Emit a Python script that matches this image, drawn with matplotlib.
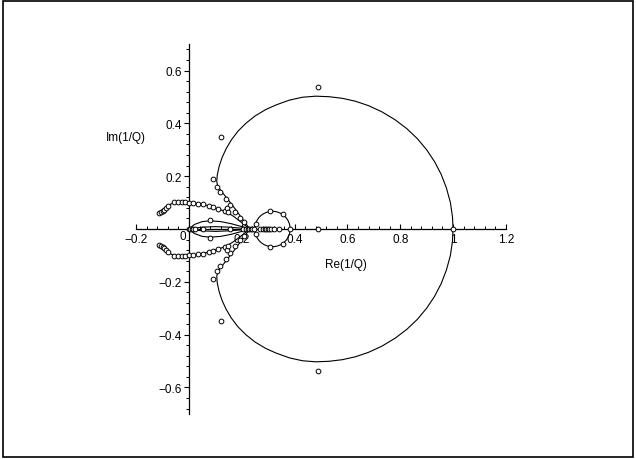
import matplotlib
matplotlib.use('Agg')
import matplotlib.pyplot as plt
import matplotlib.patches as patches
from matplotlib.ticker import FixedLocator
import numpy as np

plt.rcParams['font.family'] = ['Liberation Sans', 'DejaVu Sans']

# upper halves of the curves (mirrored below the real axis)
outer_x = [1.0, 0.998, 0.99, 0.975, 0.955, 0.93, 0.9, 0.865, 0.825, 0.78, 0.73, 0.68,
           0.63, 0.58, 0.53, 0.48, 0.43, 0.38, 0.33, 0.29, 0.25, 0.215, 0.185, 0.16,
           0.14, 0.125, 0.114, 0.107, 0.105, 0.108, 0.115, 0.125, 0.14, 0.174, 0.208,
           0.23]
outer_y = [0.0, 0.045, 0.1, 0.155, 0.207, 0.255, 0.3, 0.342, 0.38, 0.414, 0.444, 0.467,
           0.484, 0.495, 0.501, 0.503, 0.499, 0.488, 0.47, 0.452, 0.428, 0.4, 0.37, 0.337,
           0.303, 0.27, 0.237, 0.205, 0.18, 0.165, 0.153, 0.14, 0.121, 0.077, 0.03,
           0.0]

wing_x = [-0.105, -0.095, -0.082, -0.07, -0.057, -0.04, -0.02, 0.0, 0.02, 0.042,
          0.067, 0.09, 0.111, 0.143, 0.17, 0.2, 0.23]
wing_y = [0.065, 0.075, 0.085, 0.094, 0.1, 0.102, 0.102, 0.101, 0.099, 0.095,
          0.089, 0.082, 0.076, 0.064, 0.047, 0.024, 0.0]

lobe_x = [0.0, 0.02, 0.05, 0.08, 0.12, 0.16, 0.2, 0.23]
lobe_y = [0.0, 0.017, 0.028, 0.031, 0.028, 0.02, 0.009, 0.0]

thin_x = [0.0, 0.05, 0.1, 0.15, 0.2, 0.23]
thin_y = [0.0, 0.007, 0.009, 0.007, 0.003, 0.0]

ring_center = (0.316, 0.0)
ring_radius = 0.067

# sample points (upper half, mirrored)
dots_x = [0.49, 0.12, 0.092, 0.107, 0.117, 0.14, 0.155, 0.174, 0.193, 0.208,
          -0.112, -0.107, -0.097, -0.094, -0.088, -0.078, -0.057, -0.043, -0.028,
          -0.015, 0.0, 0.016, 0.035, 0.054, 0.075, 0.092, 0.111, 0.136, 0.145, 0.149,
          0.08, 0.307, 0.357, 0.254]
dots_y = [0.538, 0.348, 0.19, 0.158, 0.139, 0.114, 0.092, 0.066, 0.04, 0.025,
          0.06, 0.064, 0.069, 0.073, 0.078, 0.086, 0.101, 0.101, 0.101,
          0.101, 0.1, 0.1, 0.096, 0.093, 0.088, 0.083, 0.076, 0.069, 0.078, 0.066,
          0.033, 0.069, 0.055, 0.019]

# points on the real axis
axis_dots = [0.0, 0.005, 0.01, 0.015, 0.023, 0.053, 0.155, 0.205, 0.215, 0.222,
             0.228, 0.233, 0.238, 0.245, 0.27, 0.28, 0.287, 0.293, 0.298, 0.304,
             0.31, 0.32, 0.34, 0.383, 0.49, 1.0]

x_ticks = [-0.2, 0.2, 0.4, 0.6, 0.8, 1.0, 1.2]
x_labels = ['\u22120.2', '0.2', '0.4', '0.6', '0.8', '1', '1.2']
y_ticks = [-0.6, -0.4, -0.2, 0.2, 0.4, 0.6]
y_labels = ['\u22120.6', '\u22120.4', '\u22120.2', '0.2', '0.4', '0.6']


def mirror(xs, ys):
    xs = np.asarray(xs)
    ys = np.asarray(ys)
    return np.concatenate([xs, xs[::-1]]), np.concatenate([ys, -ys[::-1]])


fig = plt.figure(figsize=(6.36, 4.6), dpi=100)
ax = fig.add_axes([0, 0, 1, 1])
ax.set_xlim(-0.716, 1.693)
ax.set_ylim(-0.871, 0.871)

lw = 0.8
for cx, cy in [(outer_x, outer_y), (wing_x, wing_y), (lobe_x, lobe_y), (thin_x, thin_y)]:
    mx, my = mirror(cx, cy)
    ax.plot(mx, my, color='black', lw=lw)
ax.add_patch(patches.Circle(ring_center, ring_radius, fill=False, ec='black', lw=lw))

mk = dict(ls='none', marker='o', ms=3.4, mfc='white', mec='black', mew=0.7, zorder=3)
ax.plot(dots_x, dots_y, **mk)
ax.plot(dots_x, [-v for v in dots_y], **mk)
ax.plot(axis_dots, np.zeros(len(axis_dots)), **mk)

# axes through the origin
for s in ['top', 'right']:
    ax.spines[s].set_visible(False)
ax.spines['bottom'].set_position(('data', 0))
ax.spines['left'].set_position(('data', 0))
ax.spines['bottom'].set_bounds(-0.2, 1.2)
ax.spines['left'].set_bounds(-0.7, 0.7)
ax.spines['bottom'].set_linewidth(0.9)
ax.spines['left'].set_linewidth(0.9)

ax.set_xticks(x_ticks)
ax.set_xticklabels(x_labels)
ax.set_yticks(y_ticks)
ax.set_yticklabels(y_labels)
ax.xaxis.set_minor_locator(FixedLocator(np.arange(-0.2, 1.21, 0.04)))
ax.yaxis.set_minor_locator(FixedLocator(np.arange(-0.68, 0.69, 0.04)))
ax.tick_params(axis='x', which='both', direction='in', labelsize=8.5, pad=3)
ax.tick_params(axis='y', which='both', direction='out', labelsize=8.5, pad=1.5)
ax.tick_params(which='major', length=3.6, width=0.8)
ax.tick_params(which='minor', length=2.0, width=0.7)

ax.text(-0.01, -0.026, '0', ha='right', va='center', fontsize=8.5)
ax.text(0.595, -0.133, 'Re(1/Q)', ha='center', va='center', fontsize=8.5)
ax.text(-0.24, 0.35, 'Im(1/Q)', ha='center', va='center', fontsize=8.5)

fig.patches.append(patches.Rectangle((3 / 636, 2 / 460), 630 / 636, 456 / 460,
                                     transform=fig.transFigure, fill=False,
                                     ec='black', lw=1.2))

fig.savefig('out.png', dpi=100)
